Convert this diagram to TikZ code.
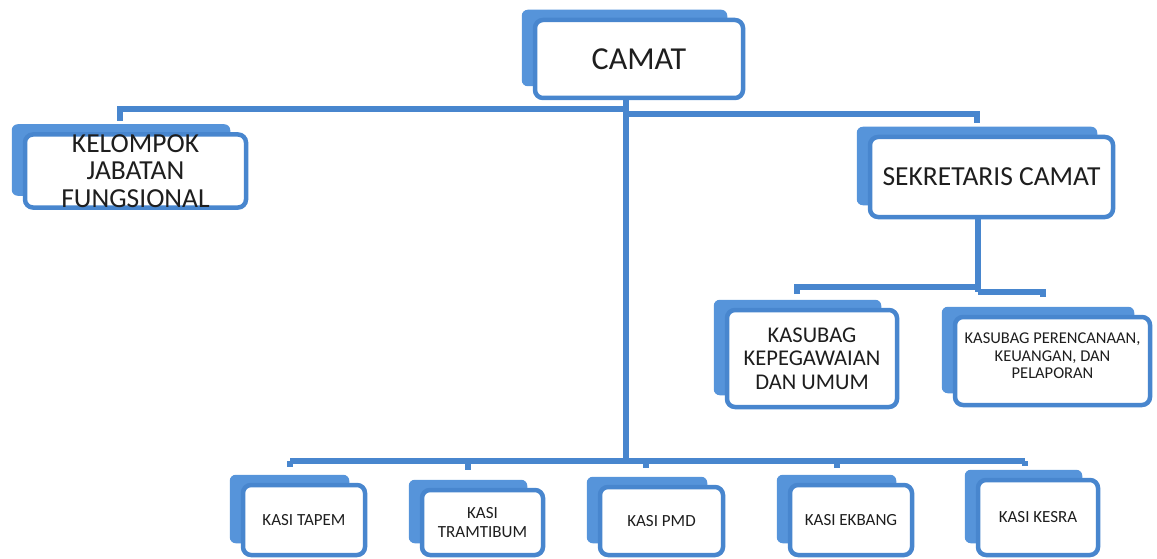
\documentclass[tikz,border=0pt]{standalone}
\usepackage{fontspec}
\setmainfont{Carlito}
\usetikzlibrary{calc,backgrounds}
\definecolor{orgline}{RGB}{72,134,206}
\definecolor{orgfill}{RGB}{86,148,218}
\definecolor{orgtext}{RGB}{30,30,30}
\tikzset{
  front/.style={draw=orgline, line width=4.5pt, fill=white, rounded corners=8pt,
    align=center, inner sep=0pt, text=orgtext},
  conn/.style={draw=orgline, line width=5.5pt},
  backfill/.style={fill=orgfill, rounded corners=6pt},
  fA/.style={font=\fontsize{32}{34}\selectfont},
  fB/.style={font=\fontsize{27.5}{27.5}\selectfont},
  fS/.style={font=\fontsize{27.5}{30}\selectfont},
  fC/.style={font=\fontsize{22.5}{23.5}\selectfont},
  fD/.style={font=\fontsize{16.5}{17.5}\selectfont},
  fE/.style={font=\fontsize{17}{19}\selectfont},
}
\begin{document}
\begin{tikzpicture}[x=1pt,y=-1pt]
\useasboundingbox (0,0) rectangle (1157,559);
% front boxes
\node[front,fA,minimum width=208pt,minimum height=78pt] (camat) at (639,59) {CAMAT};
\node[front,fB,minimum width=221pt,minimum height=72pt] (kjf) at (135.5,171) {KELOMPOK\\JABATAN\\FUNGSIONAL};
\node[front,fS,minimum width=243pt,minimum height=80pt] (sek) at (991.5,177) {SEKRETARIS CAMAT};
\node[front,fC,minimum width=170pt,minimum height=97pt] (kep) at (812,358.5) {KASUBAG\\KEPEGAWAIAN\\DAN UMUM};
\node[front,fD,minimum width=195pt,minimum height=88pt] (per) at (1052.5,361) {KASUBAG PERENCANAAN,\\KEUANGAN, DAN\\PELAPORAN\\[-7.5pt]};
\node[front,fE,minimum width=122pt,minimum height=70pt] (tapem) at (304,520) {KASI TAPEM};
\node[front,fE,minimum width=121pt,minimum height=65pt] (tram) at (482.5,522.5) {KASI\\TRAMTIBUM};
\node[front,fE,minimum width=123pt,minimum height=68pt] (pmd) at (661.5,521) {KASI PMD};
\node[front,fE,minimum width=122pt,minimum height=70pt] (ekbang) at (851,520) {KASI EKBANG};
\node[front,fE,minimum width=120pt,minimum height=75pt] (kesra) at (1038,517.5) {KASI KESRA};
% back boxes
\begin{scope}[on background layer]
\foreach \n in {camat,kjf,sek,kep,per,tapem,tram,pmd,ekbang,kesra}{
  \fill[backfill] ($(\n.north west)+(-11,-8)$) rectangle ($(\n.south east)+(-18,-14)$);
}
\end{scope}
% connectors
\coordinate (hubL) at (626,109);
\coordinate (hubR) at (626,114);
\coordinate (bus) at (626,461);
\coordinate (kjfin) at (120,121);
\coordinate (sekin) at (977,123);
\coordinate (subL) at (978,287);
\coordinate (subR) at (978,292);
\coordinate (kepin) at (797,294);
\coordinate (perin) at (1043,297);
\draw[conn] (camat.south -| bus) -- (bus);
\draw[conn] (hubL) -- (hubL -| kjfin) -- (kjfin);
\draw[conn] (hubR) -- (hubR -| sekin) -- (sekin);
\draw[conn] (sek.south -| subL) -- (subR);
\draw[conn] (subL) -- (subL -| kepin) -- (kepin);
\draw[conn] (subR) -- (subR -| perin) -- (perin);
\coordinate (tapemin) at (290,467);
\coordinate (tramin) at (468,470);
\coordinate (pmdin) at (646,468);
\coordinate (ekbangin) at (837,468);
\coordinate (kesrain) at (1025,466);
\draw[conn] (bus -| tapemin) -- (bus -| kesrain);
\foreach \c in {tapemin,tramin,pmdin,ekbangin,kesrain}{
  \draw[conn] (bus -| \c) -- (\c);
}
\end{tikzpicture}
\end{document}
